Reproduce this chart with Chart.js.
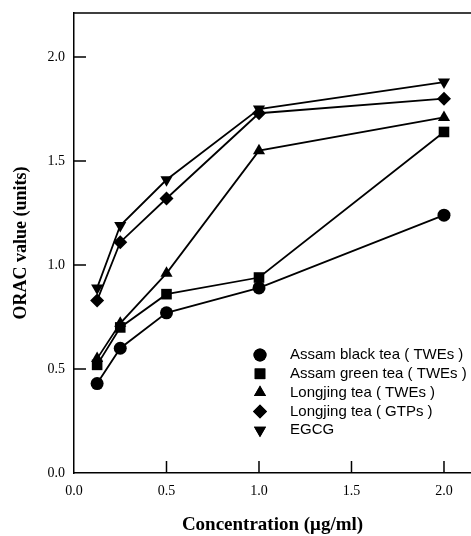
<!DOCTYPE html>
<html lang="en">
<head>
<meta charset="UTF-8">
<title>ORAC value vs concentration</title>
<script src="https://cdn.jsdelivr.net/npm/chart.js@4.4.1/dist/chart.umd.min.js"></script>
<style>
  html, body { margin: 0; padding: 0; background: #fff; }
  #wrap { width: 471px; height: 536px; position: relative; }
</style>
</head>
<body>
<div id="wrap"><canvas id="oracChart"></canvas></div>
<script>
// concentrations (ug/ml) and ORAC values
const concentration = [0.125, 0.25, 0.5, 1.0, 2.0];
const assamBlack  = [0.43, 0.60, 0.77, 0.89, 1.24];
const assamGreen  = [0.52, 0.70, 0.86, 0.94, 1.64];
const longjingTwe = [0.55, 0.72, 0.96, 1.55, 1.71];
const longjingGtp = [0.83, 1.11, 1.32, 1.73, 1.80];
const egcg        = [0.89, 1.19, 1.41, 1.75, 1.88];

const seriesLabels = [
  'Assam black tea ( TWEs )',
  'Assam green tea ( TWEs )',
  'Longjing tea ( TWEs )',
  'Longjing tea ( GTPs )',
  'EGCG'
];
const xTicks = [0, 0.5, 1.0, 1.5, 2.0];
const yTicks = [0, 0.5, 1.0, 1.5, 2.0];

const toPoints = vals => vals.map((v, i) => ({ x: concentration[i], y: v }));

// marker styles per series
const markers = [
  { style: 'circle',   radius: 6.5, rotation: 0 },
  { style: 'rect',     radius: 7.5, rotation: 0 },
  { style: 'triangle', radius: 7,   rotation: 0 },
  { style: 'rectRot',  radius: 7,   rotation: 0 },
  { style: 'triangle', radius: 7,   rotation: 180 }
];

const allValues = [assamBlack, assamGreen, longjingTwe, longjingGtp, egcg];
const datasets = allValues.map((vals, i) => ({
  label: seriesLabels[i],
  data: toPoints(vals),
  showLine: true,
  borderColor: '#000',
  backgroundColor: '#000',
  borderWidth: 1.8,
  tension: 0,
  pointStyle: markers[i].style,
  pointRadius: markers[i].radius,
  pointRotation: markers[i].rotation,
  pointBorderWidth: 0
}));

// inward ticks, top frame line and the legend box
const framePlugin = {
  id: 'frame',
  afterDraw(chart) {
    const ctx = chart.ctx;
    const area = chart.chartArea;
    const xs = chart.scales.x, ys = chart.scales.y;
    ctx.save();
    ctx.strokeStyle = '#000';
    ctx.lineWidth = 1.5;
    ctx.beginPath();
    ctx.moveTo(area.left, area.top);
    ctx.lineTo(area.right, area.top);
    xTicks.forEach(v => {
      if (v === 0) return;
      const px = xs.getPixelForValue(v);
      ctx.moveTo(px, area.bottom);
      ctx.lineTo(px, area.bottom - 12);
    });
    yTicks.forEach(v => {
      if (v === 0) return;
      const py = ys.getPixelForValue(v);
      ctx.moveTo(area.left, py);
      ctx.lineTo(area.left + 12, py);
    });
    ctx.stroke();

    // legend
    const lx = area.left + 186;
    const tx = area.left + 216;
    let ly = 355;
    ctx.fillStyle = '#000';
    ctx.font = '15px "Liberation Sans", Arial, sans-serif';
    ctx.textBaseline = 'middle';
    chart.data.datasets.forEach((ds, i) => {
      Chart.helpers.drawPoint(ctx, {
        pointStyle: ds.pointStyle,
        radius: ds.pointRadius,
        rotation: ds.pointRotation,
        borderWidth: 0
      }, lx, ly);
      ctx.fillStyle = '#000';
      ctx.fill();
      ctx.fillText(ds.label, tx, ly);
      ly += 18.8;
    });
    ctx.restore();
  }
};

new Chart(document.getElementById('oracChart'), {
  type: 'scatter',
  data: { datasets },
  options: {
    responsive: true,
    maintainAspectRatio: false,
    animation: false,
    layout: { autoPadding: false, padding: { top: 13, right: 0, left: 0, bottom: 0 } },
    plugins: {
      legend: { display: false },
      tooltip: { enabled: false }
    },
    scales: {
      x: {
        type: 'linear',
        min: 0,
        max: 2.146,
        afterBuildTicks: s => { s.ticks = xTicks.map(v => ({ value: v })); },
        afterFit: s => { s.height = 63; s.paddingLeft = 0; s.paddingRight = 0; },
        grid: { display: false, drawTicks: false },
        border: { color: '#000', width: 1.5 },
        ticks: {
          color: '#000',
          padding: 10,
          maxRotation: 0,
          font: { family: '"Liberation Serif", "Times New Roman", serif', size: 14 },
          callback: v => Number(v).toFixed(1)
        },
        title: {
          display: true,
          text: 'Concentration (\u03bcg/ml)',
          color: '#000',
          padding: { top: 2, bottom: 0 },
          font: { family: '"Liberation Serif", "Times New Roman", serif', size: 19, weight: 'bold' }
        }
      },
      y: {
        min: 0,
        max: 2.212,
        afterBuildTicks: s => { s.ticks = yTicks.map(v => ({ value: v })); },
        afterFit: s => { s.width = 74; s.paddingTop = 0; s.paddingBottom = 0; },
        grid: { display: false, drawTicks: false },
        border: { color: '#000', width: 1.5 },
        ticks: {
          color: '#000',
          padding: 9,
          font: { family: '"Liberation Serif", "Times New Roman", serif', size: 14 },
          callback: v => Number(v).toFixed(1)
        },
        title: {
          display: true,
          text: 'ORAC value (units)',
          color: '#000',
          padding: { top: 11, bottom: 0 },
          font: { family: '"Liberation Serif", "Times New Roman", serif', size: 18, weight: 'bold' }
        }
      }
    }
  },
  plugins: [framePlugin]
});
</script>
</body>
</html>
